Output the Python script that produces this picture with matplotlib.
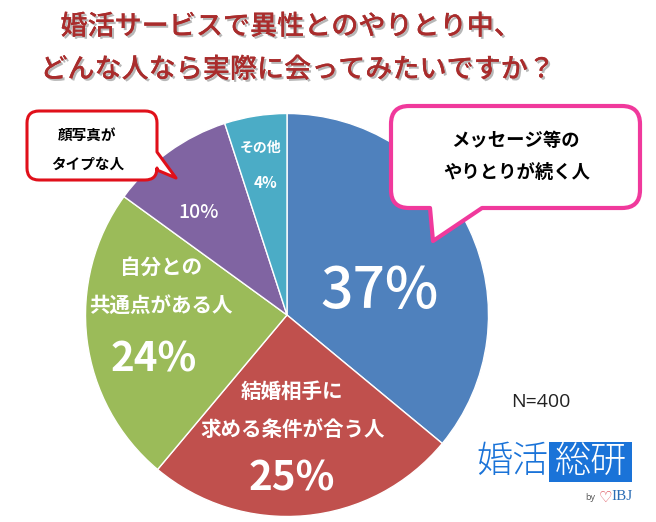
import matplotlib
matplotlib.use("Agg")
import matplotlib.pyplot as plt
import matplotlib.patheffects as pe
from matplotlib.patches import PathPatch, Rectangle
from matplotlib.path import Path

plt.rcParams['font.family'] = ['Noto Sans CJK JP', 'DejaVu Sans']

# Wedge shares as drawn in the picture (rounded labels are printed separately)
shares = [36.0, 25.1, 23.9, 10.0, 5.0]
pct_labels = ['37%', '25%', '24%', '10%', '4%']
colors = ['#4f81bd', '#c0504d', '#9bbb59', '#8064a2', '#4bacc6']
title_lines = ['婚活サービスで異性とのやりとり中、', 'どんな人なら実際に会ってみたいですか？']

W, H = 656, 522
fig = plt.figure(figsize=(W / 100, H / 100), dpi=100)
ax = fig.add_axes([0, 0, 1, 1])


def Y(y):
    return H - y


ax.pie(shares, colors=colors, startangle=90, counterclock=False,
       center=(287, Y(315)), radius=201.5,
       wedgeprops=dict(edgecolor='white', linewidth=1.0))
ax.set_xlim(0, W)
ax.set_ylim(0, H)
ax.set_aspect('equal')
ax.axis('off')


def T(x, y, s, size, color='black', weight='bold', ha='center', **kw):
    return ax.text(x, Y(y + 2), s, fontsize=size, color=color, fontweight=weight,
                   ha=ha, va='center', zorder=6, **kw)


# Title with soft shadow
shadow = [pe.withSimplePatchShadow(offset=(1.5, -1.5), shadow_rgbFace='#888888', alpha=0.6), pe.Normal()]
T(291, 25, title_lines[0], 19.5, color='#a92c2c', weight='medium', path_effects=shadow)
T(298, 68, title_lines[1], 19.5, color='#a92c2c', weight='medium', path_effects=shadow)


def callout(x0, y0, x1, y1, r, tail, edge, lw, side):
    """Rounded rectangle with a pointed tail on the given side."""
    y0p, y1p = Y(y0), Y(y1)
    C3, M, L = Path.CURVE3, Path.MOVETO, Path.LINETO
    v = [(x0 + r, y0p), (x1 - r, y0p), (x1, y0p), (x1, y0p - r)]
    c = [M, L, C3, C3]
    if side == 'right':
        v += [(x1, Y(tail[0])), tail[1], (x1, Y(tail[2]))]
        c += [L, L, L]
    v += [(x1, y1p + r), (x1, y1p), (x1 - r, y1p)]
    c += [L, C3, C3]
    if side == 'bottom':
        v += [(tail[2], y1p), tail[1], (tail[0], y1p)]
        c += [L, L, L]
    v += [(x0 + r, y1p), (x0, y1p), (x0, y1p + r), (x0, y0p - r), (x0, y0p), (x0 + r, y0p), (x0 + r, y0p)]
    c += [L, C3, C3, L, C3, C3, Path.CLOSEPOLY]
    ax.add_patch(PathPatch(Path(v, c), facecolor='white', edgecolor=edge, linewidth=lw,
                           joinstyle='round', zorder=5))


callout(391, 106, 640, 208, 18, (430, (433, Y(241)), 482), '#f0399c', 3.0, 'bottom')
callout(27, 111, 157, 180, 12, (152, (176, Y(178)), 170), '#e0101a', 2.2, 'right')

T(516, 139, 'メッセージ等の', 13.2)
T(517, 170, 'やりとりが続く人', 13.2)
T(87, 133, '顔写真が', 10.5)
T(88, 162, 'タイプな人', 10.5)

# Slice labels
T(380, 290, pct_labels[0], 41, color='white', weight='medium')
T(292, 389, '結婚相手に', 14.8, color='white')
T(293, 427, '求める条件が合う人', 14.8, color='white')
T(292, 477, pct_labels[1], 29, color='white')
T(161, 265, '自分との', 14.8, color='white')
T(161, 303, '共通点がある人', 14.8, color='white')
T(154, 358, pct_labels[2], 29, color='white')
T(199, 210, pct_labels[3], 14, color='white', weight='medium')
T(261, 146, 'その他', 10, color='white')
T(266, 181, pct_labels[4], 11, color='white')

T(541, 400, 'N=400', 14, color='#222222', weight='normal', family='Open Sans')

# Logo
blue = '#1a73d8'
ax.add_patch(Rectangle((549, Y(482)), 83, 40, facecolor=blue, edgecolor='none', zorder=5))
T(512, 460, '婚活', 26, color=blue, weight='light')
T(591, 460, '総研', 26, color='white', weight='light')
T(590, 495, 'by', 6.5, color='#555555', weight='normal', family='Open Sans')
T(605, 495, '♡', 11, color='#d9434e', weight='bold', family='DejaVu Sans')
T(622, 495, 'IBJ', 11, color='#2a6db5', weight='normal', family='Liberation Serif')

fig.savefig('out.png', dpi=100, facecolor='white')
